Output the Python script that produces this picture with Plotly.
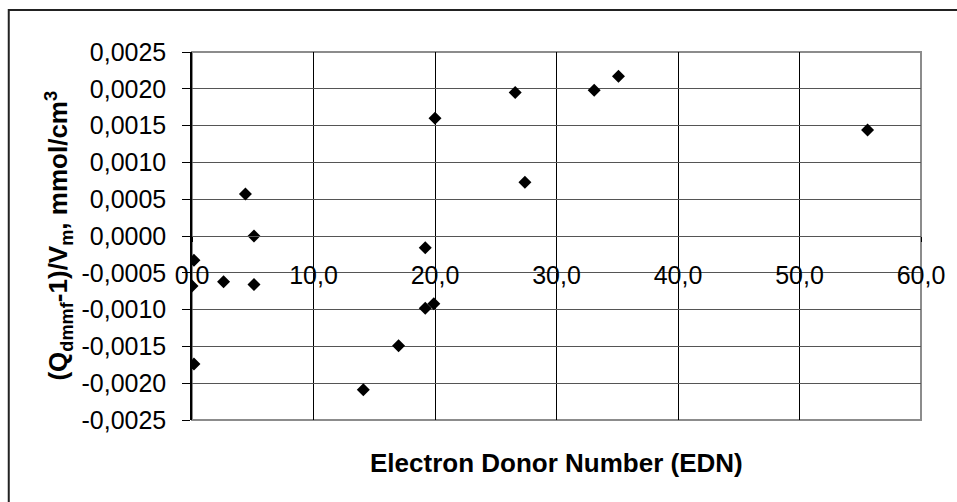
import plotly.graph_objects as go

# Electron donor number vs. normalised DMMF response
edn = [0.16, 0.0, 0.16, 2.6, 4.4, 5.1, 5.1, 14.1, 17.0, 19.2, 19.2, 19.9,
       20.0, 26.6, 27.4, 33.1, 35.1, 55.6]
response = [-0.00033, -0.00068, -0.00174, -0.00062, 0.00057, 0.0, -0.00066,
            -0.00209, -0.00149, -0.00016, -0.00098, -0.00092,
            0.00160, 0.00195, 0.00073, 0.00198, 0.00217, 0.00144]

x_tickvals = [0, 10, 20, 30, 40, 50, 60]
x_ticktext = ["0,0", "10,0", "20,0", "30,0", "40,0", "50,0", "60,0"]
y_tickvals = [0.0025, 0.0020, 0.0015, 0.0010, 0.0005, 0.0, -0.0005,
              -0.0010, -0.0015, -0.0020, -0.0025]
y_ticktext = ["0,0025", "0,0020", "0,0015", "0,0010", "0,0005", "0,0000",
              "-0,0005", "-0,0010", "-0,0015", "-0,0020", "-0,0025"]

x_title = "Electron Donor Number (EDN)"
y_title = "(Q<sub>dmmf</sub>-1)/V<sub>m</sub>, mmol/cm<sup>3</sup>"

W, H = 957, 502
L, R, T, B = 192, 33, 52, 82
PW, PH = W - L - R, H - T - B


def px_x(p):
    return (p - L) / PW


def px_y(p):
    return (H - B - p) / PH


FONT = "Liberation Sans, Arial, sans-serif"

fig = go.Figure(
    go.Scatter(
        x=edn, y=response, mode="markers",
        marker=dict(symbol="diamond", size=10, color="black", line=dict(width=0)),
        showlegend=False,
    )
)

fig.update_layout(
    width=W, height=H, autosize=False,
    margin=dict(l=L, r=R, t=T, b=B, pad=0),
    paper_bgcolor="white", plot_bgcolor="white",
    font=dict(family=FONT, size=25, color="black"),
    xaxis=dict(
        range=[0, 60], tickvals=x_tickvals, ticktext=x_ticktext,
        anchor="free", position=0.5,
        showline=True, linecolor="#555555", linewidth=1,
        ticks="outside", ticklen=5, tickcolor="black", tickwidth=1,
        ticklabelstandoff=12,
        showgrid=True, gridcolor="black", gridwidth=1,
        zeroline=False, fixedrange=True,
    ),
    yaxis=dict(
        range=[-0.0025, 0.0025], tickvals=y_tickvals, ticktext=y_ticktext,
        showline=True, linecolor="black", linewidth=1.5,
        ticks="outside", ticklen=8, tickcolor="black", tickwidth=1,
        ticklabelstandoff=11,
        showgrid=True, gridcolor="#555555", gridwidth=1,
        zeroline=False, fixedrange=True,
    ),
    shapes=[
        # plot-area frame
        dict(type="rect", xref="paper", yref="paper", x0=0, x1=1, y0=0, y1=1,
             line=dict(color="#8c8c8c", width=2), layer="below"),
        # chart-area border, open to the right and bottom
        dict(type="path", xref="paper", yref="paper",
             path=(f"M {px_x(1200)} {px_y(10)} L {px_x(8)} {px_y(10)} "
                   f"L {px_x(8)} {px_y(800)}"),
             line=dict(color="#222222", width=2)),
    ],
    annotations=[
        dict(text=x_title, xref="paper", yref="paper", x=0.5, y=px_y(463),
             xanchor="center", yanchor="middle", showarrow=False,
             font=dict(family=FONT, size=26, color="black", weight="bold")),
        dict(text=y_title, xref="paper", yref="paper", x=px_x(58), y=0.5,
             xanchor="center", yanchor="middle", showarrow=False, textangle=-90,
             font=dict(family=FONT, size=26, color="black", weight="bold")),
    ],
)

fig.write_html("out.html", config={"displayModeBar": False})
